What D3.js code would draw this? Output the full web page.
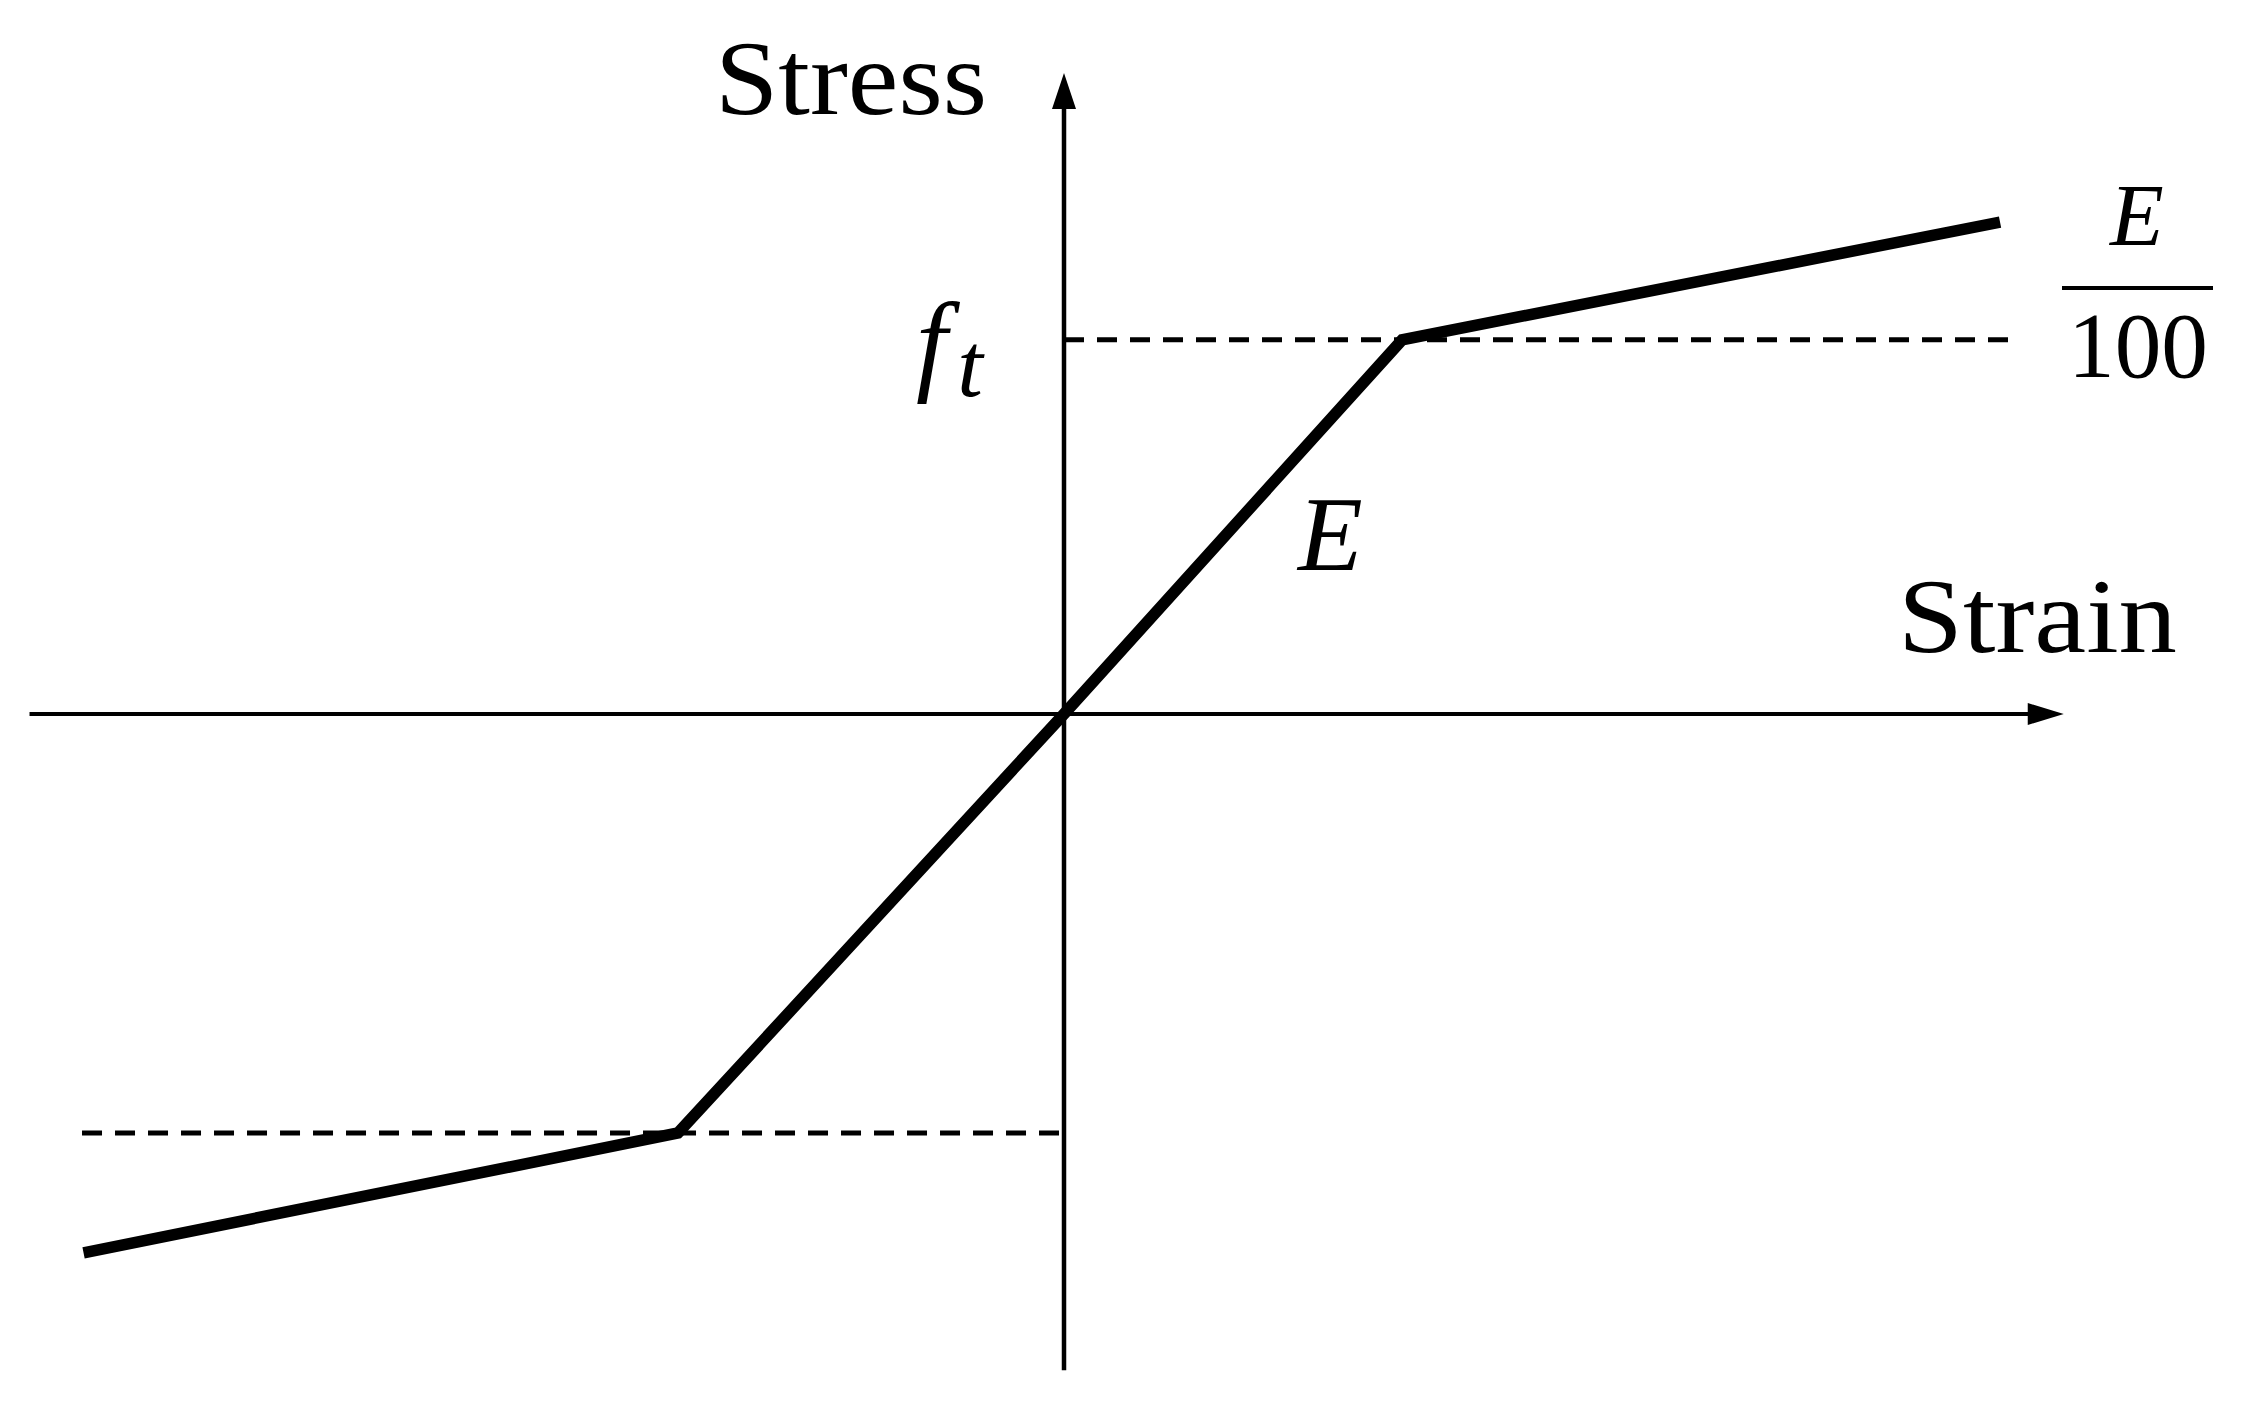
<!DOCTYPE html>
<html>
<head>
<meta charset="utf-8">
<script src="https://cdn.jsdelivr.net/npm/d3@7"></script>
<style>
  body { margin: 0; background: #fff; }
  svg { display: block; }
  .lbl { font-family: "Liberation Serif", "DejaVu Serif", serif; fill: #000; }
  .math { font-family: "Liberation Serif", "DejaVu Serif", serif; font-style: italic; fill: #000; }
</style>
</head>
<body>
<svg id="chart" width="2243" height="1401"></svg>
<script>
// bilinear stress-strain law, units: strain / yield strain, stress / |compressive yield|
var strain = [-2.54, -1, 0, 0.876, 2.425];
var stress = [-1.286, -1, 0, 0.893, 1.174];

// axis extents (same units)
var xAxisExtent = [-2.68, 2.59];
var yAxisExtent = [-1.566, 1.53];

// yield levels and how far the guide dashes run
var ftPos = 0.893, ftNeg = -1;
var dashUpperEnd = 2.446, dashLowerStart = -2.544;

var svg = d3.select("#chart");

var x = d3.scaleLinear().domain([-1, 1]).range([1064 - 386, 1064 + 386]);
var y = d3.scaleLinear().domain([-1, 1]).range([714 + 419, 714 - 419]);

// axes
svg.append("line")
  .attr("x1", x(xAxisExtent[0])).attr("x2", x(xAxisExtent[1]) - 30)
  .attr("y1", y(0)).attr("y2", y(0))
  .attr("stroke", "#000").attr("stroke-width", 4);

svg.append("line")
  .attr("x1", x(0)).attr("x2", x(0))
  .attr("y1", y(yAxisExtent[0])).attr("y2", y(yAxisExtent[1]) + 30)
  .attr("stroke", "#000").attr("stroke-width", 4.5);

// arrow heads
var tx = x(xAxisExtent[1]), ty = y(0);
svg.append("path")
  .attr("d", "M" + tx + "," + ty + "L" + (tx - 36) + "," + (ty - 11) + "L" + (tx - 36) + "," + (ty + 11) + "Z")
  .attr("fill", "#000");

var ux = x(0), uy = y(yAxisExtent[1]);
svg.append("path")
  .attr("d", "M" + ux + "," + uy + "L" + (ux - 12) + "," + (uy + 36) + "L" + (ux + 12) + "," + (uy + 36) + "Z")
  .attr("fill", "#000");

// dashed guides at yield stress
svg.append("line")
  .attr("x1", x(0)).attr("x2", x(dashUpperEnd))
  .attr("y1", y(ftPos)).attr("y2", y(ftPos))
  .attr("stroke", "#000").attr("stroke-width", 5)
  .attr("stroke-dasharray", "20,13");

svg.append("line")
  .attr("x1", x(dashLowerStart)).attr("x2", x(0))
  .attr("y1", y(ftNeg)).attr("y2", y(ftNeg))
  .attr("stroke", "#000").attr("stroke-width", 5)
  .attr("stroke-dasharray", "20,13");

// the law itself
var pts = strain.map(function(d, i){ return [d, stress[i]]; });
var line = d3.line().x(function(d){ return x(d[0]); }).y(function(d){ return y(d[1]); });

svg.append("path")
  .datum(pts)
  .attr("d", line)
  .attr("fill", "none")
  .attr("stroke", "#000")
  .attr("stroke-width", 11.5)
  .attr("stroke-linejoin", "miter");

// labels
svg.append("text").attr("class", "lbl")
  .attr("x", 715).attr("y", 114)
  .attr("font-size", 106)
  .attr("textLength", 272).attr("lengthAdjust", "spacingAndGlyphs")
  .text("Stress");

svg.append("text").attr("class", "lbl")
  .attr("x", 1898).attr("y", 652)
  .attr("font-size", 106)
  .attr("textLength", 279).attr("lengthAdjust", "spacingAndGlyphs")
  .text("Strain");

// f_t
var ft = svg.append("text").attr("class", "math")
  .attr("x", 916).attr("y", 380)
  .attr("font-size", 112);
ft.append("tspan").text("f");
ft.append("tspan").attr("font-size", 92).attr("dx", 10).attr("dy", 16).text("t");

// E along the elastic branch
svg.append("text").attr("class", "math")
  .attr("x", 1298).attr("y", 570)
  .attr("font-size", 106)
  .text("E");

// E / 100 slope of the hardening branch
svg.append("text").attr("class", "math")
  .attr("x", 2137).attr("y", 245)
  .attr("text-anchor", "middle")
  .attr("font-size", 88)
  .text("E");

svg.append("line")
  .attr("x1", 2062).attr("x2", 2213)
  .attr("y1", 288).attr("y2", 288)
  .attr("stroke", "#000").attr("stroke-width", 4);

svg.append("text").attr("class", "lbl")
  .attr("x", 2138).attr("y", 377)
  .attr("text-anchor", "middle")
  .attr("font-size", 94)
  .attr("textLength", 140).attr("lengthAdjust", "spacingAndGlyphs")
  .text("100");
</script>
</body>
</html>
